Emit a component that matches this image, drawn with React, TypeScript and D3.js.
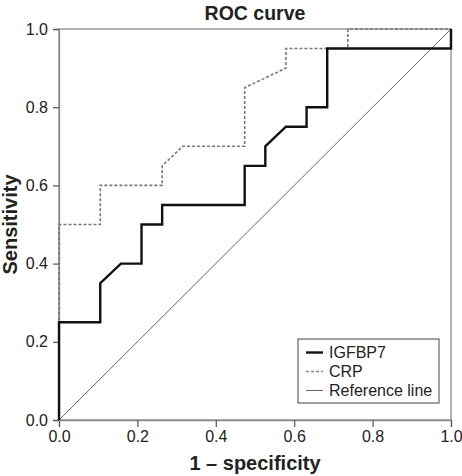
import { useEffect, useRef } from 'react';
import * as d3 from 'd3';

// ROC points as [1 - specificity, sensitivity]; 19 negatives, 20 positives
const igfbp7Fpr = [0, 0, 2 / 19, 2 / 19, 3 / 19, 4 / 19, 4 / 19, 5 / 19, 5 / 19, 9 / 19, 9 / 19, 10 / 19, 10 / 19, 11 / 19, 12 / 19, 12 / 19, 13 / 19, 13 / 19, 1, 1];
const igfbp7Tpr = [0, 0.25, 0.25, 0.35, 0.4, 0.4, 0.5, 0.5, 0.55, 0.55, 0.65, 0.65, 0.7, 0.75, 0.75, 0.8, 0.8, 0.95, 0.95, 1];

const crpFpr = [0, 0, 2 / 19, 2 / 19, 5 / 19, 5 / 19, 6 / 19, 9 / 19, 9 / 19, 11 / 19, 11 / 19, 14 / 19, 14 / 19, 1];
const crpTpr = [0, 0.5, 0.5, 0.6, 0.6, 0.65, 0.7, 0.7, 0.85, 0.9, 0.95, 0.95, 1, 1];

const refFpr = [0, 1];
const refTpr = [0, 1];

const ticks = [0, 0.2, 0.4, 0.6, 0.8, 1.0];
const legendLabels = ['IGFBP7', 'CRP', 'Reference line'];

const App: React.FC = () => {
  const svgRef = useRef<SVGSVGElement>(null);

  const width = 462;
  const height = 476;
  const margin = { top: 29, right: 11, bottom: 56, left: 59 };

  useEffect(() => {
    if (!svgRef.current) return;
    const svg = d3.select(svgRef.current);
    svg.selectAll('*').remove();

    const font = '"Liberation Sans", Arial, sans-serif';
    const axisColor = '#8a8a8a';

    const x = d3.scaleLinear().domain([0, 1]).range([margin.left, width - margin.right]);
    const y = d3.scaleLinear().domain([0, 1]).range([height - margin.bottom, margin.top]);

    // frame
    svg.append('rect')
      .attr('x', x(0))
      .attr('y', y(1))
      .attr('width', x(1) - x(0))
      .attr('height', y(0) - y(1))
      .attr('fill', 'none')
      .attr('stroke', axisColor)
      .attr('stroke-width', 1.3);

    // axes
    const xAxis = svg.append('g')
      .attr('transform', `translate(0,${y(0)})`)
      .call(d3.axisBottom(x).tickValues(ticks).tickSize(7).tickPadding(4).tickFormat(d3.format('.1f')));
    const yAxis = svg.append('g')
      .attr('transform', `translate(${x(0)},0)`)
      .call(d3.axisLeft(y).tickValues(ticks).tickSize(6).tickPadding(5).tickFormat(d3.format('.1f')));

    [xAxis, yAxis].forEach(g => {
      g.select('.domain').attr('stroke', axisColor).attr('stroke-width', 1.3);
      g.selectAll('.tick line').attr('stroke', '#555').attr('stroke-width', 1.2);
      g.selectAll('.tick text')
        .attr('fill', '#222')
        .style('font-family', font)
        .style('font-size', '16px');
    });

    const line = d3.line<[number, number]>()
      .x(d => x(d[0]))
      .y(d => y(d[1]));

    const zip = (a: number[], b: number[]) => a.map((v, i) => [v, b[i]] as [number, number]);

    // reference diagonal
    svg.append('path')
      .attr('d', line(zip(refFpr, refTpr)))
      .attr('fill', 'none')
      .attr('stroke', '#666')
      .attr('stroke-width', 1);

    // CRP
    svg.append('path')
      .attr('d', line(zip(crpFpr, crpTpr)))
      .attr('fill', 'none')
      .attr('stroke', '#777')
      .attr('stroke-width', 1.6)
      .attr('stroke-dasharray', '3,2');

    // IGFBP7
    svg.append('path')
      .attr('d', line(zip(igfbp7Fpr, igfbp7Tpr)))
      .attr('fill', 'none')
      .attr('stroke', '#111')
      .attr('stroke-width', 2.4);

    // title and axis labels
    svg.append('text')
      .attr('x', (x(0) + x(1)) / 2)
      .attr('y', 20)
      .attr('text-anchor', 'middle')
      .style('font-family', font)
      .style('font-weight', 'bold')
      .style('font-size', '19.5px')
      .attr('fill', '#222')
      .text('ROC curve');

    svg.append('text')
      .attr('x', (x(0) + x(1)) / 2)
      .attr('y', 470)
      .attr('text-anchor', 'middle')
      .style('font-family', font)
      .style('font-weight', 'bold')
      .style('font-size', '20px')
      .attr('fill', '#222')
      .text('1 – specificity');

    svg.append('text')
      .attr('transform', `translate(17,${(y(0) + y(1)) / 2}) rotate(-90)`)
      .attr('text-anchor', 'middle')
      .style('font-family', font)
      .style('font-weight', 'bold')
      .style('font-size', '20px')
      .attr('fill', '#222')
      .text('Sensitivity');

    // legend
    const legend = svg.append('g').attr('transform', 'translate(298,339)');
    legend.append('rect')
      .attr('width', 141)
      .attr('height', 64)
      .attr('fill', '#fff')
      .attr('stroke', '#444')
      .attr('stroke-width', 1);

    const legendStyles = [
      { stroke: '#111', width: 2.4, dash: null },
      { stroke: '#888', width: 1.6, dash: '3,2' },
      { stroke: '#666', width: 1, dash: null },
    ];

    legendLabels.forEach((label, i) => {
      const ly = 13.5 + i * 19;
      const s = legendStyles[i];
      legend.append('line')
        .attr('x1', 8)
        .attr('x2', 25)
        .attr('y1', ly)
        .attr('y2', ly)
        .attr('stroke', s.stroke)
        .attr('stroke-width', s.width)
        .attr('stroke-dasharray', s.dash);
      legend.append('text')
        .attr('x', 31)
        .attr('y', ly + 5.5)
        .style('font-family', font)
        .style('font-size', '16px')
        .attr('fill', '#222')
        .text(label);
    });
  }, []);

  return (
    <svg
      ref={svgRef}
      width={width}
      height={height}
      style={{ position: 'absolute', left: 0, top: 0, display: 'block', background: '#fff' }}
    />
  );
};

export default App;
